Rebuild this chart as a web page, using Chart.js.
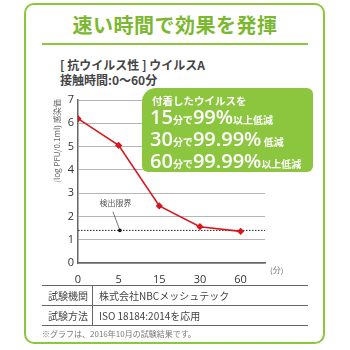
<!DOCTYPE html>
<html>
<head>
<meta charset="utf-8">
<script src="https://cdn.jsdelivr.net/npm/chart.js@4"></script>
<style>
  html, body { margin: 0; padding: 0; background: #fff; }
  body { width: 350px; height: 350px; position: relative; overflow: hidden;
         font-family: "Noto Sans CJK JP", "Noto Sans", sans-serif; color: #333; }
  #wrap { position: absolute; left: 0; top: 0; width: 350px; height: 350px; }
  .frame { position: absolute; left: 24px; top: 3px; width: 297px; height: 337px;
           border: 2px solid #8cc63f; border-radius: 10px; }
  .title { position: absolute; left: 0; width: 350px; top: 10px; text-align: center;
           color: #7cb82f; font-size: 20px; font-weight: bold; letter-spacing: 0.5px; }
  .rule { position: absolute; left: 42px; top: 43px; width: 266px; height: 2px; background: #8cc63f; }
  .sub { position: absolute; left: 60px; font-size: 12px; font-weight: bold; color: #444; }
  .ylab { position: absolute; left: 56px; top: 141px; font-size: 8px; color: #666;
          transform: translate(-50%, -50%) rotate(-90deg); white-space: nowrap; }
  .unit { position: absolute; left: 270px; top: 264px; font-size: 8px; color: #777; }
  .box { position: absolute; left: 142px; top: 88px; width: 171px; height: 84px;
         background: #8cc63f; border-radius: 14px 6px 6px 6px; color: #fff; }
  .box .l0 { position: absolute; left: 10px; top: 5px; font-size: 10.5px; font-weight: bold; }
  .box .row { position: absolute; left: 8px; font-size: 10px; font-weight: bold; white-space: nowrap; }
  .box .big { font-family: "Open Sans", "Noto Sans", sans-serif; font-size: 20px; font-weight: 600; }
  table { position: absolute; left: 42px; top: 285px; width: 266px; border-collapse: collapse;
          font-size: 10px; color: #444; table-layout: fixed; }
  td { border-top: 1.5px solid #666; border-bottom: 1.5px solid #666; height: 19px; padding: 0 6px;
       white-space: nowrap; line-height: 19px; }
  td.k { width: 38px; border-right: 1px solid #666; text-align: center; }
  .note { position: absolute; left: 42px; top: 328px; font-size: 8px; color: #777; }
  canvas { position: absolute; left: 0; top: 0; }
</style>
</head>
<body>
<div id="wrap">
  <div class="frame"></div>
  <div class="title">速い時間で効果を発揮</div>
  <div class="rule"></div>
  <div class="sub" style="top:56px">[ 抗ウイルス性 ] ウイルスA</div>
  <div class="sub" style="top:71px">接触時間:0〜60分</div>
  <canvas id="c" width="350" height="350"></canvas>
  <div class="ylab">(log PFU/0.1ml) 感染価</div>
  <div class="unit">(分)</div>
  <div class="box">
    <div class="l0">付着したウイルスを</div>
    <div class="row" style="top:15px"><span class="big">15</span>分で<span class="big">99%</span>以上低減</div>
    <div class="row" style="top:37px"><span class="big">30</span>分で<span class="big">99.99%</span> 低減</div>
    <div class="row" style="top:59px"><span class="big">60</span>分で<span class="big">99.99%</span>以上低減</div>
  </div>
  <table>
    <tr><td class="k">試験機関</td><td>株式会社NBCメッシュテック</td></tr>
    <tr><td class="k">試験方法</td><td>ISO 18184:2014を応用</td></tr>
  </table>
  <div class="note">※グラフは、2016年10月の試験結果です。</div>
</div>
<script>
// contact time labels (minutes), plotted at evenly spaced positions
const timeLabels = ["0", "5", "15", "30", "60"];
const timePos = [0, 1, 2, 3, 4];
// virus titer, log PFU/0.1ml
const titer = [6.2, 5.05, 2.45, 1.56, 1.36];
// detection limit
const limitValue = 1.4;
const limitMarkX = 1.03;
const limitLabel = "検出限界";
const limitLabelPos = { x: 0.92, y: 2.6 };
const limitLeader = [{ x: 0.86, y: 2.2 }, { x: limitMarkX, y: limitValue }];
const yTicks = [0, 1, 2, 3, 4, 5, 6, 7];
const xMax = 4.6;

const limitText = {
  id: "limitText",
  afterDatasetsDraw(chart) {
    const { ctx, scales: { x, y } } = chart;
    ctx.save();
    ctx.fillStyle = "#555";
    ctx.font = "8px 'Noto Sans CJK JP'";
    ctx.textAlign = "center";
    ctx.textBaseline = "middle";
    ctx.fillText(limitLabel, x.getPixelForValue(limitLabelPos.x), y.getPixelForValue(limitLabelPos.y));
    ctx.restore();
  }
};

const ctx = document.getElementById("c").getContext("2d");
new Chart(ctx, {
  type: "line",
  data: {
    datasets: [
      {
        label: "titer",
        data: timePos.map((p, i) => ({ x: p, y: titer[i] })),
        borderColor: "#d9161c",
        backgroundColor: "#d9161c",
        borderWidth: 1.6,
        pointRadius: 2.5,
        pointStyle: "rectRot",
        tension: 0
      },
      {
        label: "limit",
        data: [{ x: 0, y: limitValue }, { x: xMax, y: limitValue }],
        borderColor: "#222",
        borderWidth: 1,
        borderDash: [1.5, 1.5],
        pointRadius: 0
      },
      {
        label: "leader",
        data: limitLeader,
        borderColor: "#555",
        borderWidth: 0.8,
        pointRadius: [0, 1.8],
        pointBackgroundColor: "#111",
        pointBorderWidth: 0
      }
    ]
  },
  options: {
    responsive: false,
    animation: false,
    plugins: { legend: { display: false }, tooltip: { enabled: false } },
    layout: { padding: { left: 0, top: 100, right: 85, bottom: 67 } },
    scales: {
      x: {
        type: "linear",
        min: 0,
        max: xMax,
        afterBuildTicks: s => { s.ticks = timePos.map(v => ({ value: v })); },
        afterFit: s => { s.height = 20; },
        ticks: {
          callback: v => timeLabels[v] ?? "",
          color: "#333",
          font: { size: 11, family: "'Open Sans', sans-serif" },
          padding: 2,
          maxRotation: 0
        },
        grid: { display: false },
        border: { color: "#666", width: 1.5 }
      },
      y: {
        min: 0,
        max: 7,
        afterBuildTicks: s => { s.ticks = yTicks.map(v => ({ value: v })); },
        afterFit: s => { s.width = 78; },
        ticks: {
          color: "#333",
          font: { size: 11, family: "'Open Sans', sans-serif" },
          padding: 4
        },
        grid: { color: "#b5b5b5", lineWidth: 1, drawTicks: false },
        border: { color: "#666", width: 1.5 }
      }
    }
  },
  plugins: [limitText]
});
</script>
</body>
</html>
